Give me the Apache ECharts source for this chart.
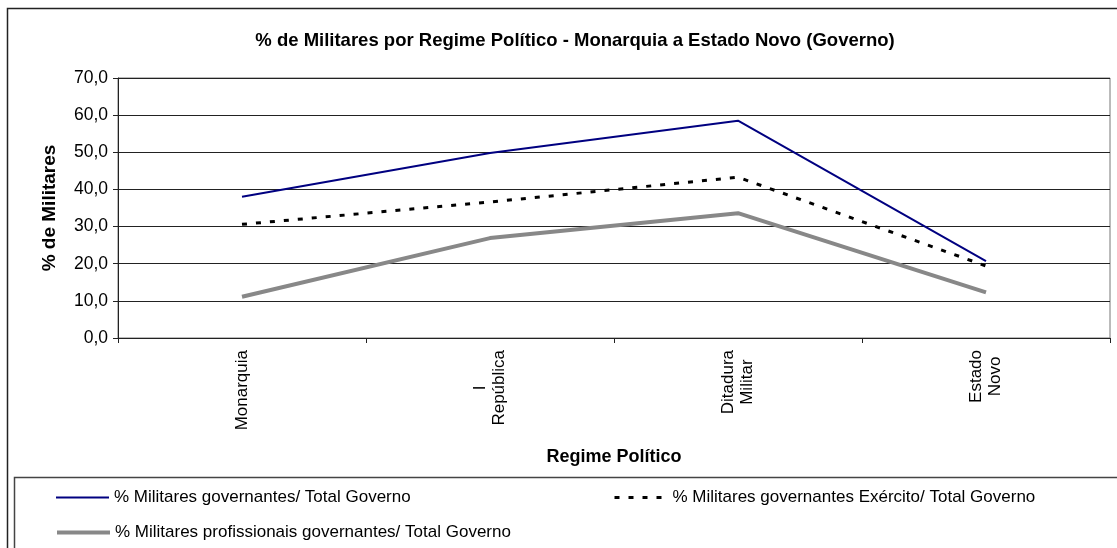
<!DOCTYPE html>
<html>
<head>
<meta charset="utf-8">
<script src="https://cdn.jsdelivr.net/npm/echarts@6/dist/echarts.min.js"></script>
<style>
  html, body { margin: 0; padding: 0; background: #fff; }
  #chart { width: 1117px; height: 548px; }
</style>
</head>
<body>
<div id="chart"></div>
<script>
// Regimes políticos (eixo das categorias)
const categories = ['Monarquia', 'I\nRepública', 'Ditadura\nMilitar', 'Estado\nNovo'];

// Séries (% do total do governo)
const seriesNames = [
  '% Militares governantes/ Total Governo',
  '% Militares governantes Exército/ Total Governo',
  '% Militares profissionais governantes/ Total Governo'
];
const militaresGovernantes = [38.0, 49.8, 58.5, 20.7];
const militaresExercito = [30.6, 36.6, 43.3, 19.4];
const militaresProfissionais = [11.1, 26.9, 33.6, 12.3];

// Escala do eixo Y
const yMin = 0, yMax = 70, yStep = 10;

const FONT = 'Liberation Sans, Arial, sans-serif';
const legendText = { fontFamily: FONT, fontSize: 17, color: '#000' };
const styles = [
  { color: '#000080', width: 2, type: 'solid' },
  { color: '#000000', width: 3, type: [5, 9] },
  { color: '#888888', width: 4, type: 'solid' }
];

const chart = echarts.init(document.getElementById('chart'), null, { renderer: 'canvas' });

chart.setOption({
  animation: false,
  backgroundColor: '#ffffff',
  title: {
    text: '% de Militares por Regime Político - Monarquia a Estado Novo (Governo)',
    left: 570,
    textAlign: 'center',
    top: 26,
    textStyle: { fontFamily: FONT, fontSize: 18.5, fontWeight: 'bold', color: '#000' }
  },
  graphic: [
    { type: 'rect', shape: { x: 7.5, y: 8.5, width: 1300, height: 800 },
      style: { fill: 'none', stroke: '#222', lineWidth: 1.5 }, silent: true, z: -1 },
    { type: 'rect', shape: { x: 14.5, y: 477.5, width: 1300, height: 200 },
      style: { fill: 'none', stroke: '#444', lineWidth: 1.5 }, silent: true, z: -1 }
  ],
  grid: {
    left: 118, right: 7, top: 78, bottom: 210,
    show: true, borderColor: '#777', borderWidth: 1, backgroundColor: 'transparent'
  },
  legend: [
    { data: [seriesNames[0]], left: 55, top: 489, padding: 0, itemWidth: 53, itemHeight: 14,
      itemStyle: { opacity: 0 }, lineStyle: styles[0], textStyle: legendText },
    { data: [seriesNames[1]], left: 613, top: 489, padding: 0, itemWidth: 53, itemHeight: 14,
      itemStyle: { opacity: 0 }, lineStyle: styles[1], textStyle: legendText },
    { data: [seriesNames[2]], left: 55, top: 524, padding: 0, itemWidth: 53, itemHeight: 14,
      itemStyle: { opacity: 0 }, lineStyle: styles[2], textStyle: legendText }
  ],
  xAxis: {
    type: 'category',
    data: categories,
    boundaryGap: true,
    name: 'Regime Político',
    nameLocation: 'middle',
    nameGap: 110,
    nameTextStyle: { fontFamily: FONT, fontSize: 18, fontWeight: 'bold', color: '#000' },
    axisLine: { lineStyle: { color: '#222', width: 1 } },
    axisTick: { show: true, length: 5, interval: 0, lineStyle: { color: '#222' } },
    axisLabel: {
      rotate: 90,
      interval: 0,
      margin: 12,
      fontFamily: FONT,
      fontSize: 17,
      color: '#000',
      formatter: v => v.split('\n').map(s => '{c|' + s + '}').join('\n'),
      rich: { c: { align: 'center', fontFamily: FONT, fontSize: 17, lineHeight: 19, color: '#000' } }
    }
  },
  yAxis: {
    type: 'value',
    min: yMin, max: yMax, interval: yStep,
    name: '% de Militares',
    nameLocation: 'middle',
    nameRotate: 90,
    nameGap: 59,
    nameTextStyle: { fontFamily: FONT, fontSize: 19, fontWeight: 'bold', color: '#000' },
    axisLine: { show: true, lineStyle: { color: '#222', width: 1 } },
    axisTick: { show: true, length: 5, lineStyle: { color: '#222' } },
    axisLabel: {
      fontFamily: FONT, fontSize: 17.5, color: '#000', margin: 10,
      formatter: v => v.toFixed(1).replace('.', ',')
    },
    splitLine: { show: true, lineStyle: { color: '#222', width: 1 } }
  },
  series: [
    { name: seriesNames[0], type: 'line', data: militaresGovernantes, symbol: 'none',
      lineStyle: styles[0], itemStyle: { color: styles[0].color }, z: 4 },
    { name: seriesNames[1], type: 'line', data: militaresExercito, symbol: 'none',
      lineStyle: styles[1], itemStyle: { color: styles[1].color }, z: 3 },
    { name: seriesNames[2], type: 'line', data: militaresProfissionais, symbol: 'none',
      lineStyle: styles[2], itemStyle: { color: styles[2].color }, z: 2 }
  ]
});
</script>
</body>
</html>
